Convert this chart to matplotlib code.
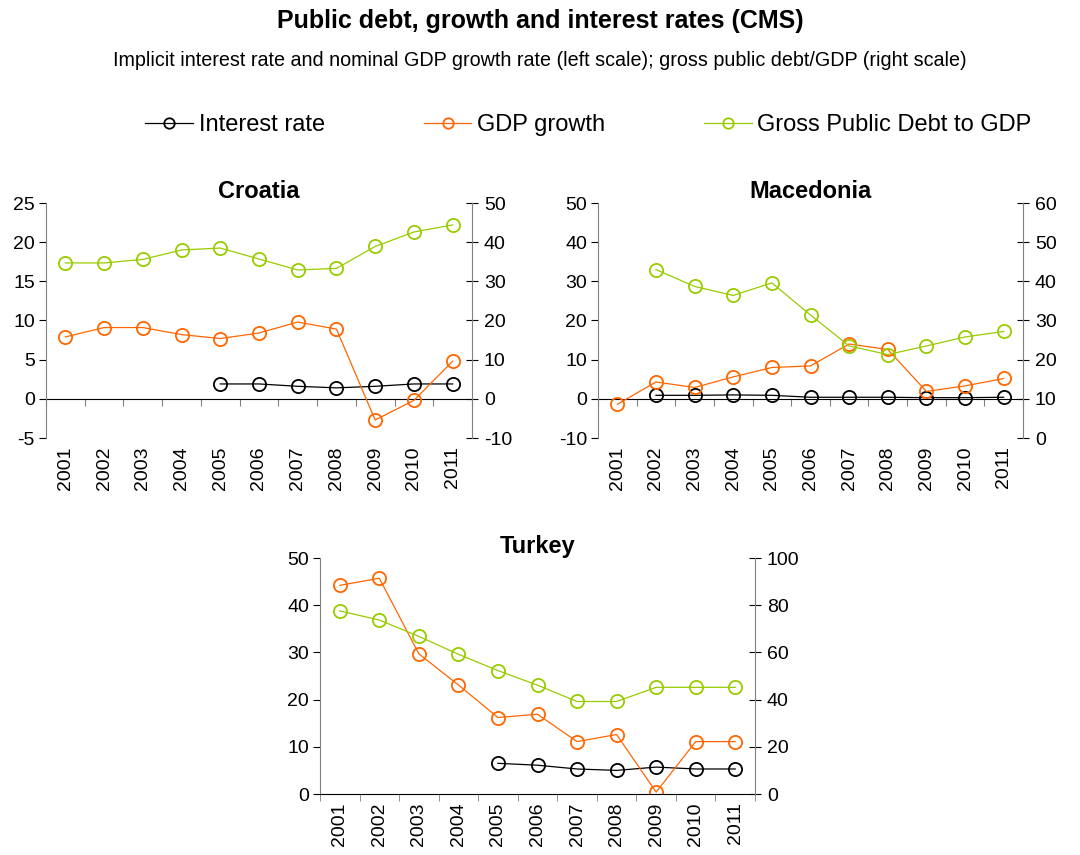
#!/usr/bin/env python3
"""
Public debt, growth and interest rates for Croatia, Macedonia and Turkey.
"""
import numpy as np
import matplotlib
matplotlib.use("Agg")
import matplotlib.pyplot as plt
from matplotlib.lines import Line2D

plt.rcParams['font.family'] = ['Liberation Sans', 'DejaVu Sans']
plt.rcParams['axes.unicode_minus'] = False

years = ['2001', '2002', '2003', '2004', '2005', '2006', '2007', '2008', '2009', '2010', '2011']
nan = np.nan

# Croatia
cro_interest = [nan, nan, nan, nan, 1.9, 1.9, 1.6, 1.4, 1.6, 1.9, 1.9]
cro_gdp = [7.9, 9.1, 9.1, 8.2, 7.7, 8.4, 9.8, 8.9, -2.7, -0.2, 4.8]
cro_debt = [34.7, 34.7, 35.6, 38.0, 38.5, 35.7, 32.9, 33.3, 38.9, 42.6, 44.4]

# Macedonia
mac_interest = [nan, 0.9, 0.9, 1.0, 0.9, 0.4, 0.4, 0.4, 0.3, 0.3, 0.4]
mac_gdp = [-1.4, 4.3, 2.9, 5.6, 8.0, 8.4, 14.0, 12.6, 1.9, 3.3, 5.2]
mac_debt = [nan, 43.0, 38.7, 36.4, 39.6, 31.4, 23.5, 21.3, 23.5, 25.8, 27.2]

# Turkey
tur_interest = [nan, nan, nan, nan, 6.5, 6.1, 5.3, 5.0, 5.7, 5.3, 5.3]
tur_gdp = [44.2, 45.7, 29.7, 23.1, 16.2, 16.9, 11.1, 12.6, 0.4, 11.1, 11.1]
tur_debt = [77.6, 73.7, 66.8, 59.2, 52.3, 46.1, 39.2, 39.2, 45.2, 45.2, 45.2]

BLACK = '#000000'
ORANGE = '#FF6600'
GREEN = '#99CC00'
GREY = '#808080'
TICK_FS = 14

W, H = 1080, 855
fig = plt.figure(figsize=(W / 100, H / 100), dpi=100)


def px_axes(left, top, right, bottom):
    return fig.add_axes([left / W, 1 - bottom / H, (right - left) / W, (bottom - top) / H])


def series(ax, vals, color):
    x = np.arange(len(years))
    ax.plot(x, vals, color=color, lw=0.9, marker='o', ms=9.5, mfc='none',
            mec=color, mew=1.3)


def panel(rect, name, interest, gdp, debt, ylim, yticks, y2lim, y2ticks):
    ax = px_axes(*rect)
    n = len(years)
    x = np.arange(n)
    ax.set_xlim(-0.5, n - 0.5)
    ax.set_ylim(*ylim)
    ax.set_yticks(yticks)
    ax.set_xticks(x)
    ax.set_xticklabels(years, rotation=90)
    ax.tick_params(axis='x', length=0, pad=6, labelsize=TICK_FS)
    ax.tick_params(axis='y', direction='out', length=5, labelsize=TICK_FS, pad=3)
    ax.spines['top'].set_visible(False)
    ax.spines['right'].set_visible(False)
    ax.spines['left'].set_color(GREY)

    # horizontal axis line at zero with ticks between categories
    loc = (0 - ylim[0]) / (ylim[1] - ylim[0])
    if loc > 0:
        ax.spines['bottom'].set_visible(False)
        sec = ax.secondary_xaxis(loc)
        sec.set_xticks(np.arange(n + 1) - 0.5)
        sec.tick_params(axis='x', direction='out', length=5, labelbottom=False,
                        labeltop=False, color=GREY)
        sec.spines['bottom'].set_color(BLACK)
    else:
        ax.set_xticks(np.arange(n + 1) - 0.5, minor=True)
        ax.tick_params(axis='x', which='minor', direction='out', length=5, color=GREY)

    series(ax, interest, BLACK)
    series(ax, gdp, ORANGE)

    ax2 = ax.twinx()
    ax2.set_ylim(*y2lim)
    ax2.set_yticks(y2ticks)
    ax2.tick_params(axis='y', direction='inout', length=9, labelsize=TICK_FS, pad=4)
    for s in ['top', 'left', 'bottom']:
        ax2.spines[s].set_visible(False)
    ax2.spines['right'].set_color(GREY)
    series(ax2, debt, GREEN)

    ax.set_title(name, fontsize=17, fontweight='bold', pad=1)
    return ax


panel((46, 203, 472, 438), 'Croatia', cro_interest, cro_gdp, cro_debt,
      (-5, 25), range(-5, 26, 5), (-10, 50), range(-10, 51, 10))
panel((598, 203, 1023, 438), 'Macedonia', mac_interest, mac_gdp, mac_debt,
      (-10, 50), range(-10, 51, 10), (0, 60), range(0, 61, 10))
panel((320, 558, 755, 794), 'Turkey', tur_interest, tur_gdp, tur_debt,
      (0, 50), range(0, 51, 10), (0, 100), range(0, 101, 20))

fig.text(0.5, 1 - 21 / H, 'Public debt, growth and interest rates (CMS)',
         ha='center', va='center', fontsize=18, fontweight='bold')
fig.text(0.5, 1 - 60 / H,
         'Implicit interest rate and nominal GDP growth rate (left scale); '
         'gross public debt/GDP (right scale)',
         ha='center', va='center', fontsize=14.2)

handles = [Line2D([], [], color=c, lw=0.9, marker='o', ms=7.5, mfc='none', mec=c, mew=1.3)
           for c in (BLACK, ORANGE, GREEN)]
fig.legend(handles, ['Interest rate', 'GDP growth', 'Gross Public Debt to GDP'],
           loc='center', bbox_to_anchor=(0.545, 1 - 125 / H), ncol=3, frameon=False,
           fontsize=17, handlelength=2.0, handletextpad=0.25, columnspacing=4.2)

fig.savefig('out.png', dpi=100)
